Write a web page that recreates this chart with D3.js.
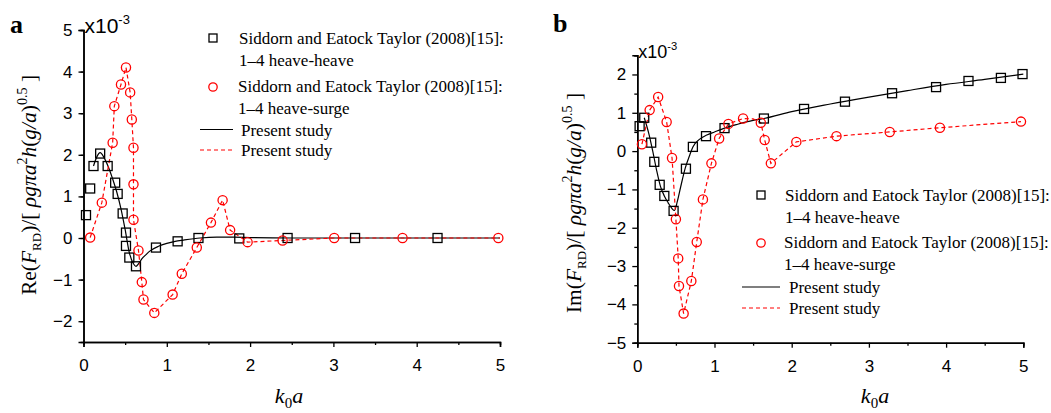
<!DOCTYPE html>
<html><head><meta charset="utf-8">
<script src="https://cdn.jsdelivr.net/npm/d3@7"></script>
<style>
body{margin:0;background:#fff;}
svg{display:block;}
</style></head>
<body>
<svg id="c" width="1051" height="413"></svg>
<script>
// ---------- Panel a: Re ----------
const aSqX = [0.03,0.08,0.12,0.20,0.29,0.38,0.41,0.47,0.51,0.51,0.55,0.63,0.87,1.13,1.38,1.87,2.45,3.26,4.25];
const aSqY = [0.55,1.19,1.73,2.03,1.73,1.33,1.06,0.59,0.13,-0.19,-0.47,-0.68,-0.23,-0.08,0.00,-0.01,0.00,0.00,0.00];
const aCiX = [0.08,0.22,0.35,0.37,0.45,0.51,0.56,0.58,0.60,0.60,0.60,0.66,0.70,0.72,0.85,1.07,1.18,1.36,1.53,1.67,1.76,1.97,2.39,3.01,3.83,4.98];
const aCiY = [0.01,0.85,2.29,3.17,3.69,4.10,3.50,2.85,2.17,1.29,0.44,-0.30,-1.06,-1.48,-1.80,-1.36,-0.86,-0.23,0.37,0.91,0.19,-0.10,-0.06,0.00,0.00,0.00];
const aLineX = [0.12,0.16,0.20,0.25,0.30,0.35,0.40,0.45,0.50,0.55,0.60,0.63,0.66,0.70,0.75,0.80,0.90,1.00,1.10,1.20,1.40,1.60,1.80,2.00,2.50,3.00,3.50,4.00,4.50,5.00];
const aLineY = [1.73,1.95,2.05,1.92,1.70,1.42,1.10,0.70,0.20,-0.35,-0.62,-0.68,-0.62,-0.50,-0.40,-0.31,-0.20,-0.13,-0.08,-0.05,0.00,0.02,0.02,0.01,0.00,0.00,0.00,0.00,0.00,0.00];
const aDashX = [0.08,0.22,0.35,0.37,0.45,0.51,0.56,0.58,0.60,0.60,0.60,0.66,0.70,0.72,0.85,1.07,1.18,1.36,1.53,1.67,1.76,1.97,2.39,3.01,3.83,5.00];
const aDashY = [0.01,0.85,2.29,3.17,3.69,4.10,3.50,2.85,2.17,1.29,0.44,-0.30,-1.06,-1.48,-1.80,-1.36,-0.86,-0.23,0.37,0.91,0.19,-0.10,-0.06,0.00,0.00,0.00];

// ---------- Panel b: Im ----------
const bSqX = [0.03,0.09,0.18,0.22,0.29,0.35,0.47,0.63,0.72,0.89,1.13,1.64,2.16,2.69,3.30,3.87,4.29,4.71,4.99];
const bSqY = [0.65,0.87,0.22,-0.28,-0.88,-1.17,-1.56,-0.46,0.11,0.39,0.60,0.85,1.10,1.29,1.51,1.67,1.83,1.91,2.01];
const bCiX = [0.06,0.16,0.27,0.38,0.45,0.50,0.53,0.54,0.60,0.70,0.77,0.85,0.96,1.06,1.18,1.37,1.60,1.65,1.73,2.06,2.58,3.27,3.92,4.97];
const bCiY = [0.18,1.07,1.41,0.76,-0.18,-1.78,-2.80,-3.52,-4.24,-3.39,-2.37,-1.26,-0.32,0.33,0.71,0.85,0.74,0.29,-0.32,0.24,0.39,0.50,0.61,0.77];
const bLineX = [0.09,0.15,0.20,0.25,0.30,0.35,0.40,0.45,0.48,0.52,0.56,0.62,0.68,0.72,0.80,0.90,1.00,1.13,1.30,1.50,1.64,2.00,2.50,3.00,3.50,4.00,4.50,5.00];
const bLineY = [0.87,0.45,0.00,-0.50,-0.92,-1.17,-1.35,-1.50,-1.55,-1.30,-0.95,-0.45,-0.10,0.11,0.30,0.42,0.50,0.60,0.70,0.80,0.85,1.03,1.23,1.41,1.58,1.74,1.87,2.01];
const bDashX = [0.06,0.16,0.27,0.38,0.45,0.50,0.53,0.54,0.60,0.70,0.77,0.85,0.96,1.06,1.18,1.37,1.50,1.60,1.65,1.73,2.06,2.58,3.27,3.92,4.97];
const bDashY = [0.18,1.07,1.41,0.76,-0.18,-1.78,-2.80,-3.52,-4.24,-3.39,-2.37,-1.26,-0.32,0.33,0.71,0.85,0.84,0.74,0.29,-0.32,0.24,0.39,0.50,0.61,0.77];

// tick labels
const xTicks = [0,1,2,3,4,5];
const aYTicks = [-2,-1,0,1,2,3,4,5];
const bYTicks = [-5,-4,-3,-2,-1,0,1,2];
const legendRef = ["Siddorn and Eatock Taylor (2008)[15]:", "1–4 heave-heave", "1–4 heave-surge"];
const legendPresent = "Present study";

const svg = d3.select("#c");
const SANS = "'Liberation Sans', Arial, sans-serif";
const SERIF = "'Liberation Serif', 'Times New Roman', serif";

function zip(xs, ys){ return xs.map((x,i)=>({x, y: ys[i]})); }

function panel(cfg){
  const g = svg.append("g");
  const x = d3.scaleLinear().domain([0,5]).range(cfg.xr);
  const y = d3.scaleLinear().domain(cfg.yd).range(cfg.yr);

  const xAxisMinor = d3.axisBottom(x).tickValues(d3.range(0.5,5,1)).tickSize(3).tickFormat("");
  const yMinor = d3.range(cfg.yd[0]+0.5, cfg.yd[1]+0.01, 1);
  const yAxisMinor = d3.axisLeft(y).tickValues(yMinor).tickSize(3).tickFormat("");
  const xAxis = d3.axisBottom(x).tickValues(xTicks).tickSize(5).tickPadding(12).tickFormat(d3.format("d"));
  const yAxis = d3.axisLeft(y).tickValues(cfg.yTicks).tickSize(5).tickPadding(6).tickFormat(d3.format("d"));

  [xAxisMinor, xAxis].forEach(ax=>{
    const gg = g.append("g").attr("transform",`translate(0,${cfg.yr[0]})`).call(ax);
    gg.select(".domain").attr("stroke","#000").attr("stroke-width",1.5);
    gg.selectAll("line").attr("stroke","#000").attr("stroke-width",1.3);
    gg.selectAll("text").attr("font-family",SANS).attr("font-size",17).attr("fill","#000");
  });
  [yAxisMinor, yAxis].forEach(ax=>{
    const gg = g.append("g").attr("transform",`translate(${cfg.xr[0]},0)`).call(ax);
    gg.select(".domain").attr("stroke","#000").attr("stroke-width",1.5);
    gg.selectAll("line").attr("stroke","#000").attr("stroke-width",1.3);
    gg.selectAll("text").attr("font-family",SANS).attr("font-size",17).attr("fill","#000");
  });

  const mt = g.append("text").attr("x", cfg.xr[0]+1).attr("y", cfg.yr[1]+cfg.multDy)
    .attr("font-family",SANS).attr("font-size",cfg.multSize).attr("fill","#000");
  mt.append("tspan").text("x10");
  mt.append("tspan").attr("dy",-cfg.multSize*0.45).attr("font-size",cfg.multSize*0.62).text("-3");

  const line = d3.line().x(d=>x(d.x)).y(d=>y(d.y)).curve(d3.curveMonotoneX);
  const lin = d3.line().x(d=>x(d.x)).y(d=>y(d.y));

  g.append("path").datum(zip(cfg.lineX,cfg.lineY)).attr("d",line)
    .attr("fill","none").attr("stroke","#000").attr("stroke-width",1.2);
  g.append("path").datum(zip(cfg.dashX,cfg.dashY)).attr("d",lin)
    .attr("fill","none").attr("stroke","#ff0000").attr("stroke-width",1.2).attr("stroke-dasharray","4,3");

  const s = 9;
  g.selectAll(".sq").data(zip(cfg.sqX,cfg.sqY)).enter().append("rect")
    .attr("x",d=>x(d.x)-s/2).attr("y",d=>y(d.y)-s/2).attr("width",s).attr("height",s)
    .attr("fill","none").attr("stroke","#000").attr("stroke-width",1.3);
  g.selectAll(".ci").data(zip(cfg.ciX,cfg.ciY)).enter().append("circle")
    .attr("cx",d=>x(d.x)).attr("cy",d=>y(d.y)).attr("r",4.6)
    .attr("fill","none").attr("stroke","#ff0000").attr("stroke-width",1.3);

  g.append("text").attr("x",cfg.letterX).attr("y",cfg.letterY).text(cfg.letter)
    .attr("font-family",SERIF).attr("font-weight","bold").attr("font-size",26).attr("fill","#000");

  const xl = g.append("text").attr("x",cfg.xlX).attr("y",403).attr("text-anchor","middle")
    .attr("font-family",SERIF).attr("font-size",22).attr("fill","#000");
  xl.append("tspan").attr("font-style","italic").text("k");
  xl.append("tspan").attr("dy",5).attr("font-size",15).text("0");
  xl.append("tspan").attr("dy",-5).attr("font-style","italic").text("a");

  const yl = g.append("text").attr("transform",`translate(${cfg.ylX},${cfg.ylY}) rotate(-90)`)
    .attr("text-anchor","middle").attr("font-family",SERIF).attr("font-size",21.5).attr("fill","#000");
  yl.append("tspan").text(cfg.ylPrefix + "(");
  yl.append("tspan").attr("font-style","italic").text("F");
  yl.append("tspan").attr("dy",5).attr("font-size",13).text("RD");
  yl.append("tspan").attr("dy",-5).text(")/[ ");
  yl.append("tspan").attr("font-style","italic").text("ρgπa");
  yl.append("tspan").attr("dy",-9).attr("font-size",14).text("2");
  yl.append("tspan").attr("dy",9).attr("font-style","italic").text("h");
  yl.append("tspan").text("(");
  yl.append("tspan").attr("font-style","italic").text("g/a");
  yl.append("tspan").text(")");
  yl.append("tspan").attr("dy",-9).attr("font-size",14).text("0.5");
  yl.append("tspan").attr("dy",9).text(" ]");

  const L = cfg.leg;
  const lg = g.append("g").attr("font-family",SERIF).attr("font-size",17).attr("fill","#000");
  lg.append("rect").attr("x",L.mx-4).attr("y",L.y0-4).attr("width",8).attr("height",8)
    .attr("fill","none").attr("stroke","#000").attr("stroke-width",1.3);
  lg.append("text").attr("x",L.tx).attr("y",L.y0+6).text(legendRef[0]);
  lg.append("text").attr("x",L.tx).attr("y",L.y0+28).text(legendRef[1]);
  lg.append("circle").attr("cx",L.mx).attr("cy",L.y1).attr("r",4.2)
    .attr("fill","none").attr("stroke","#ff0000").attr("stroke-width",1.3);
  lg.append("text").attr("x",L.tx-1).attr("y",L.y1+5).text(legendRef[0]);
  lg.append("text").attr("x",L.tx-1).attr("y",L.y1+27).text(legendRef[2]);
  lg.append("line").attr("x1",L.lx0).attr("x2",L.lx1).attr("y1",L.y2).attr("y2",L.y2)
    .attr("stroke","#000").attr("stroke-width",1.2);
  lg.append("text").attr("x",L.ptx).attr("y",L.y2+6).text(legendPresent);
  lg.append("line").attr("x1",L.lx0).attr("x2",L.lx1).attr("y1",L.y3).attr("y2",L.y3)
    .attr("stroke","#ff0000").attr("stroke-width",1.2).attr("stroke-dasharray","4,3");
  lg.append("text").attr("x",L.ptx).attr("y",L.y3+6).text(legendPresent);
}

panel({
  xr:[83.5,500], yd:[-2.5,5], yr:[342,30], yTicks:aYTicks,
  sqX:aSqX, sqY:aSqY, ciX:aCiX, ciY:aCiY, lineX:aLineX, lineY:aLineY, dashX:aDashX, dashY:aDashY,
  multDy:3, multSize:21,
  letter:"a", letterX:10, letterY:33,
  xlX:289, ylX:36, ylY:185, ylPrefix:"Re",
  leg:{mx:213, tx:239, y0:38, y1:87, lx0:200, lx1:233, y2:129.5, y3:150, ptx:241}
});
panel({
  xr:[637.3,1023.3], yd:[-5,2.5], yr:[342.7,55.3], yTicks:bYTicks,
  sqX:bSqX, sqY:bSqY, ciX:bCiX, ciY:bCiY, lineX:bLineX, lineY:bLineY, dashX:bDashX, dashY:bDashY,
  multDy:3, multSize:18,
  letter:"b", letterX:553, letterY:32,
  xlX:875, ylX:581, ylY:203, ylPrefix:"Im",
  leg:{mx:761, tx:785, y0:195, y1:243, lx0:742, lx1:780, y2:287, y3:308, ptx:789}
});
</script>
</body></html>
